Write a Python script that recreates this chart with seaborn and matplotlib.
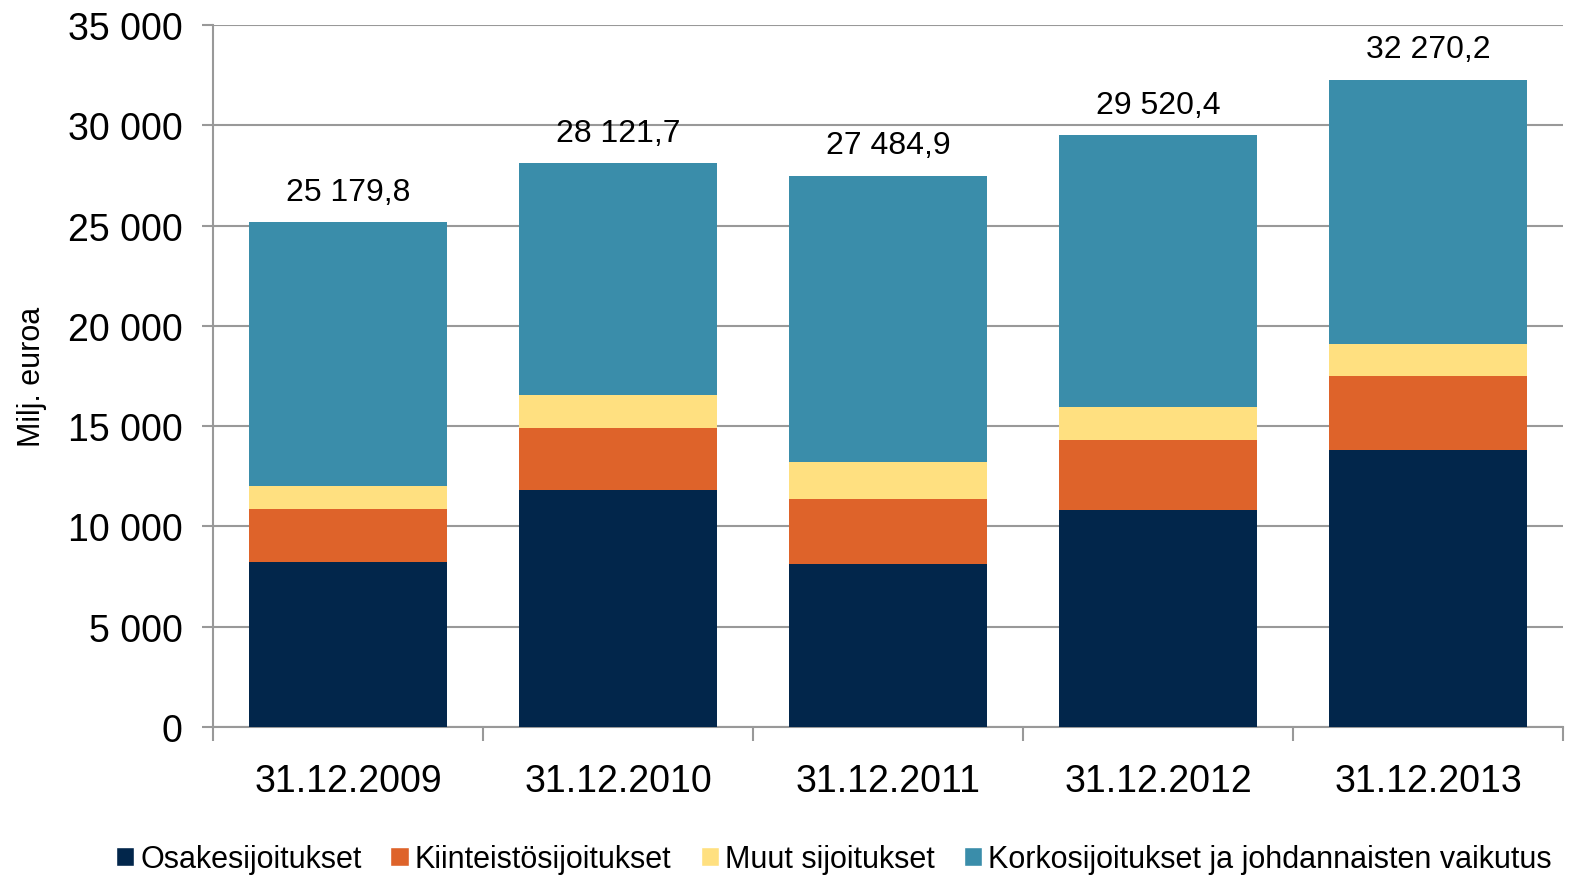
import numpy as np
import pandas as pd
import matplotlib
matplotlib.use('Agg')
import matplotlib.pyplot as plt
import seaborn as sns
from matplotlib.patches import Patch
from matplotlib.ticker import FuncFormatter, FixedLocator

dates = ['31.12.2009', '31.12.2010', '31.12.2011', '31.12.2012', '31.12.2013']
osake = [8230, 11810, 8130, 10820, 13810]
kiint = [2640, 3100, 3240, 3490, 3690]
muut = [1140, 1640, 1840, 1640, 1590]
totals = [25179.8, 28121.7, 27484.9, 29520.4, 32270.2]
korko = [t - o - k - m for t, o, k, m in zip(totals, osake, kiint, muut)]

series = ['Osakesijoitukset', 'Kiinteistösijoitukset', 'Muut sijoitukset',
          'Korkosijoitukset ja johdannaisten vaikutus']
colors = ['#02264B', '#DE632A', '#FFE080', '#3A8DAA']

sns.set_style('white', {'text.color': 'black', 'axes.labelcolor': 'black',
                        'xtick.color': 'black', 'ytick.color': 'black'})
plt.rcParams['font.family'] = ['Liberation Sans', 'DejaVu Sans']

df = pd.DataFrame({'date': dates, 'o': osake, 'k': kiint, 'm': muut, 'r': korko})
df['c1'] = df['o']
df['c2'] = df['c1'] + df['k']
df['c3'] = df['c2'] + df['m']
df['c4'] = df['c3'] + df['r']

fig = plt.figure(figsize=(15.79, 8.78), dpi=100)
ax = fig.add_axes([0.1349, 0.1708, 0.855, 0.7996])

# stacked bars: draw cumulative totals from the top down
for col, c in zip(['c4', 'c3', 'c2', 'c1'], colors[::-1]):
    sns.barplot(data=df, x='date', y=col, color=c, width=0.733, ax=ax,
                saturation=1, linewidth=0, zorder=3)

for i, t in enumerate(totals):
    lab = f'{t:,.1f}'.replace(',', ' ').replace('.', ',')
    ax.annotate(lab, (i, t), xytext=(0, 11), textcoords='offset points',
                ha='center', va='bottom', fontsize=23, color='black')

ax.set_xlim(-0.5, 4.5)
ax.set_ylim(0, 35000)
ax.set_yticks(np.arange(0, 35001, 5000))
ax.yaxis.set_major_formatter(FuncFormatter(lambda v, p: f'{int(v):,}'.replace(',', ' ')))
ax.yaxis.grid(True, color='#999999', linewidth=1.5, zorder=0)
ax.set_axisbelow(True)
ax.tick_params(axis='y', labelsize=27, length=8, width=1.5, color='#999999',
               labelcolor='black', direction='out', left=True, pad=14)
ax.tick_params(axis='x', labelsize=27, length=0, pad=26, labelcolor='black')
ax.xaxis.set_minor_locator(FixedLocator(np.arange(-0.5, 5.0, 1)))
ax.tick_params(axis='x', which='minor', length=10, width=1.5, color='#999999',
               direction='out', bottom=True)
ax.set_xlabel('')
ax.set_ylabel('Milj. euroa', fontsize=22, labelpad=15, color='black')
for s in ['top', 'right']:
    ax.spines[s].set_visible(False)
for s in ['left', 'bottom']:
    ax.spines[s].set_color('#999999')
    ax.spines[s].set_linewidth(1.5)

handles = [Patch(facecolor=c, label=s) for c, s in zip(colors, series)]
fig.legend(handles=handles, loc='lower center', bbox_to_anchor=(0.528, -0.028),
           ncol=4, frameon=False, fontsize=22, handlelength=0.6, handleheight=0.6,
           handletextpad=0.2, columnspacing=0.95, labelcolor='black')

fig.savefig('out.png', dpi=100)
